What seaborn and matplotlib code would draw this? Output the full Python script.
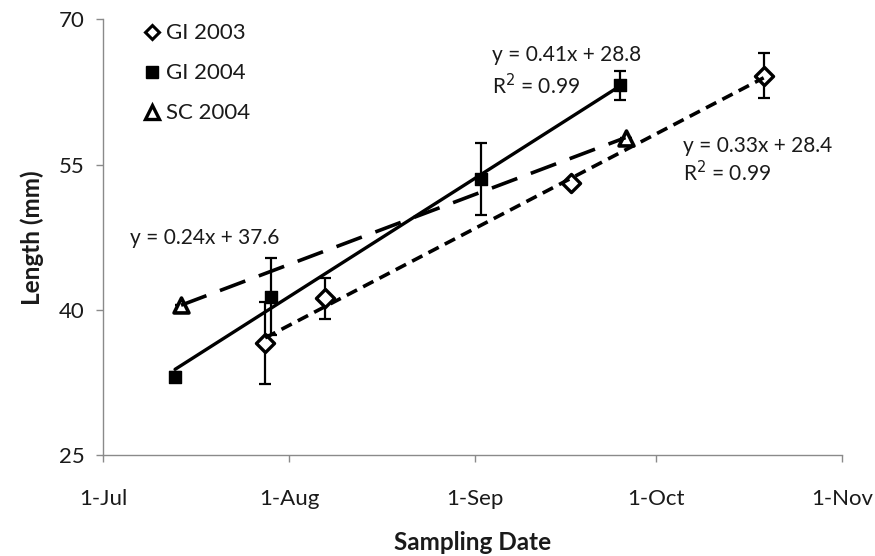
import numpy as np
import pandas as pd
import matplotlib
matplotlib.use("Agg")
import matplotlib.pyplot as plt
from matplotlib.lines import Line2D
import seaborn as sns

sns.set_theme(style="white")
plt.rcParams["font.family"] = ["Lato", "DejaVu Sans"]

# Sampling dates (month-day), mean lengths (mm) and error bar half-widths
gi03_dates = ["07-28", "08-07", "09-17", "10-19"]
gi03_len = [36.6, 41.2, 53.1, 64.2]
gi03_err = [4.2, 2.1, 0.0, 2.3]

gi04_dates = ["07-13", "07-29", "09-02", "09-25"]
gi04_len = [33.1, 41.4, 53.5, 63.2]
gi04_err = [0.5, 4.0, 3.7, 1.5]

sc04_dates = ["07-14", "09-26"]
sc04_len = [40.5, 57.8]
sc04_err = [0.0, 0.0]

tick_dates = ["07-01", "08-01", "09-01", "10-01", "11-01"]
tick_labels = ["1-Jul", "1-Aug", "1-Sep", "1-Oct", "1-Nov"]
y_ticks = [25, 40, 55, 70]

eq_gi04 = ["y = 0.41x + 28.8", "R$^2$ = 0.99"]
eq_gi03 = ["y = 0.33x + 28.4", "R$^2$ = 0.99"]
eq_sc04 = ["y = 0.24x + 37.6"]

ORIGIN = pd.Timestamp("2004-07-01")


def day_of_season(md):
    return [(pd.Timestamp("2004-" + d) - ORIGIN).days for d in md]


series = {
    "GI 2003": (gi03_dates, gi03_len, gi03_err),
    "GI 2004": (gi04_dates, gi04_len, gi04_err),
    "SC 2004": (sc04_dates, sc04_len, sc04_err),
}
frames = []
for name, (d, l, e) in series.items():
    frames.append(pd.DataFrame({"series": name, "day": day_of_season(d),
                                "length": l, "err": e}))
df = pd.concat(frames, ignore_index=True)

style = {
    "GI 2003": dict(marker="D", face="white", s=85, lw=2.4, ls=(0, (3.2, 1.9)), tlw=2.6),
    "GI 2004": dict(marker="s", face="black", s=85, lw=1.0, ls="-", tlw=2.4),
    "SC 2004": dict(marker="^", face="white", s=115, lw=2.6, ls=(0, (7.5, 4.0)), tlw=2.6),
}

fig, ax = plt.subplots(figsize=(8.75, 5.56), dpi=100)
fig.subplots_adjust(left=0.1177, right=0.962, bottom=0.181, top=0.965)

for name in series:
    sub = df[df["series"] == name]
    st = style[name]
    ax.errorbar(sub["day"], sub["length"], yerr=sub["err"], fmt="none",
                ecolor="black", elinewidth=1.6, capsize=4.5, capthick=1.6, zorder=2)
    sns.scatterplot(data=sub, x="day", y="length", marker=st["marker"], s=st["s"],
                    color=st["face"], edgecolor="black", linewidth=st["lw"],
                    ax=ax, zorder=3, legend=False)
    sns.regplot(data=sub, x="day", y="length", scatter=False, ci=None, truncate=True,
                color="black", line_kws=dict(linestyle=st["ls"], linewidth=st["tlw"], zorder=4),
                ax=ax)

# Trendline equations
txt = dict(fontsize=15, color="#1a1a1a", ha="left", va="center")
ax.text(64.8, 66.3, eq_gi04[0], **txt)
ax.text(64.8, 63.2, eq_gi04[1], **txt)
ax.text(96.5, 56.9, eq_gi03[0], **txt)
ax.text(96.5, 54.2, eq_gi03[1], **txt)
ax.text(4.5, 47.4, eq_sc04[0], **txt)

ax.set_xlim(0, day_of_season(["11-01"])[0])
ax.set_ylim(25, 70)
ax.set_xticks(day_of_season(tick_dates))
ax.set_xticklabels(tick_labels)
ax.set_yticks(y_ticks)

for side in ["top", "right"]:
    ax.spines[side].set_visible(False)
for side in ["left", "bottom"]:
    ax.spines[side].set_color("#8a8a8a")
    ax.spines[side].set_linewidth(1.0)
ax.tick_params(axis="both", which="major", direction="out", length=5, width=1.0,
               color="#8a8a8a", labelsize=16, labelcolor="#1a1a1a", pad=8,
               bottom=True, left=True)
ax.tick_params(axis="x", pad=19)

ax.set_xlabel("Sampling Date", fontsize=17.5, fontweight="bold", color="#1a1a1a", labelpad=16)
ax.set_ylabel("Length (mm)", fontsize=17.5, fontweight="bold", color="#1a1a1a", labelpad=11)

handles = [
    Line2D([], [], linestyle="none", marker="D", markersize=7.5, markerfacecolor="white",
           markeredgecolor="black", markeredgewidth=2.2),
    Line2D([], [], linestyle="none", marker="s", markersize=9, markerfacecolor="black",
           markeredgecolor="black"),
    Line2D([], [], linestyle="none", marker="^", markersize=10, markerfacecolor="white",
           markeredgecolor="black", markeredgewidth=2.4),
]
leg = ax.legend(handles, list(series.keys()), loc="upper left", bbox_to_anchor=(0.027, 1.037),
                frameon=False, fontsize=16, handlelength=0.8, handletextpad=0.25,
                labelspacing=0.9)
for t in leg.get_texts():
    t.set_color("#1a1a1a")

fig.savefig("out.png", dpi=100)
